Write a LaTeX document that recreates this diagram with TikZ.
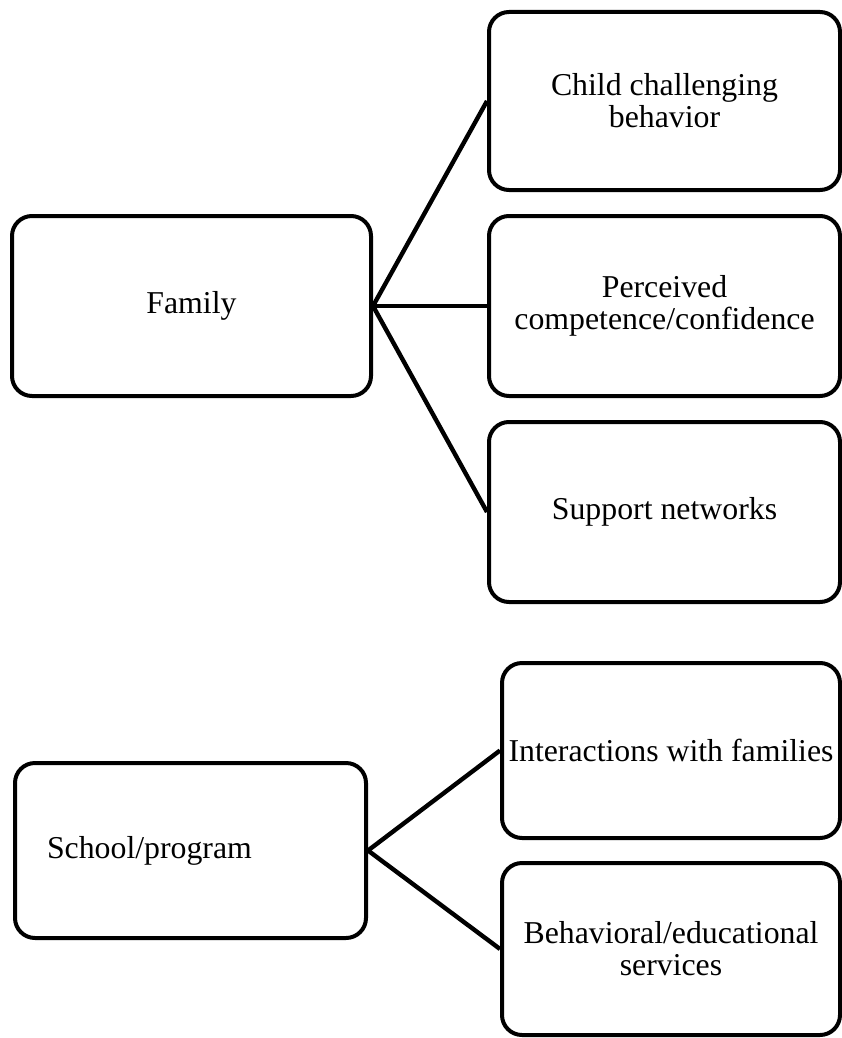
\documentclass[tikz,border=0pt]{standalone}
\usepackage{fontspec}
\setmainfont{Liberation Serif}
\tikzset{
    stagebox/.style={draw,line width=2pt,rounded corners=10pt,inner sep=2pt,
        align=center,font=\fontsize{15.9}{16}\selectfont},
    link/.style={line width=2.2pt}
}
\begin{document}
\begin{tikzpicture}[x=0.5pt,y=-0.5pt]
        \useasboundingbox (0,0) rectangle (841,1038);
        %% family and its factors
        \node[stagebox,minimum width=179.5pt,minimum height=90pt] (family) at (191.5,306) {Family};
        \node[stagebox,minimum width=175.5pt,minimum height=89pt] (child) at (664.5,101) {Child challenging\\behavior};
        \node[stagebox,minimum width=175.5pt,minimum height=90pt] (perceived) at (664.5,306) {Perceived\\competence/confidence};
        \node[stagebox,minimum width=175.5pt,minimum height=90pt] (support) at (664.5,512) {Support networks};
        \foreach \n in {child,perceived,support} \draw[link] (family.east) -- (\n.west);
        %% school/program and its factors
        \node[stagebox,align=left,text width=143.5pt,inner xsep=16pt,minimum height=87.5pt] (school) at (190.5,850.5) {School/program};
        \node[stagebox,minimum width=169pt,minimum height=87.5pt] (interact) at (671,750.5) {Interactions with families};
        \node[stagebox,minimum width=169pt,minimum height=86pt] (services) at (671,949) {Behavioral/educational\\services};
        \foreach \n in {interact,services} \draw[link] (school.east) -- (\n.west);
    \end{tikzpicture}
\end{document}
